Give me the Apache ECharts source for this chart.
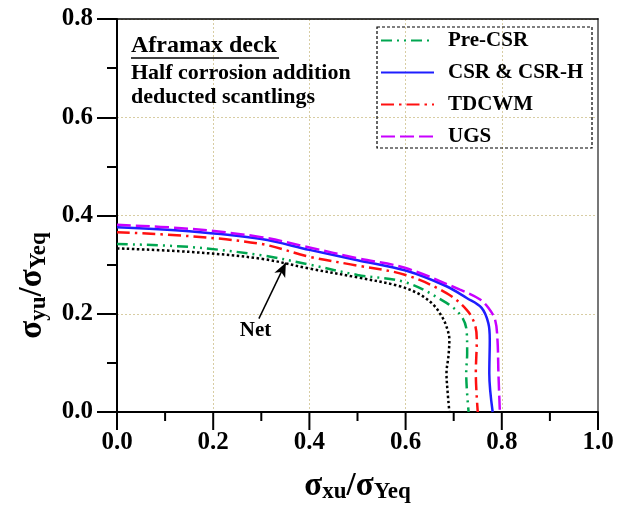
<!DOCTYPE html>
<html>
<head>
<meta charset="utf-8">
<script src="https://cdn.jsdelivr.net/npm/echarts@6/dist/echarts.min.js"></script>
<style>
  html, body { margin: 0; padding: 0; background: #fff; }
  #chart { width: 624px; height: 508px; }
</style>
</head>
<body>
<div id="chart"></div>
<script>
// Ultimate strength interaction curves, Aframax deck panel (x: sigma_xu/sigma_Yeq, y: sigma_yu/sigma_Yeq)
const seriesNames = ['Pre-CSR', 'CSR & CSR-H', 'TDCWM', 'UGS'];

const netCurve = [
  [0, 0.333], [0.15, 0.326], [0.3, 0.312], [0.4, 0.292], [0.5, 0.274],
  [0.588, 0.256], [0.63, 0.239], [0.658, 0.218], [0.675, 0.195], [0.685, 0.174],
  [0.691, 0.147], [0.689, 0.113], [0.685, 0.079], [0.687, 0.045], [0.691, 0]
];
const preCsrCurve = [
  [0, 0.342], [0.15, 0.336], [0.3, 0.319], [0.4, 0.300], [0.5, 0.279],
  [0.6, 0.264], [0.685, 0.222], [0.716, 0.195], [0.727, 0.164], [0.728, 0.12],
  [0.726, 0.079], [0.731, 0]
];
const csrCurve = [
  [0, 0.376], [0.15, 0.368], [0.3, 0.352], [0.4, 0.330], [0.5, 0.309],
  [0.6, 0.288], [0.685, 0.256], [0.727, 0.232], [0.758, 0.212], [0.772, 0.181],
  [0.775, 0.147], [0.774, 0.079], [0.781, 0]
];
const tdcwmCurve = [
  [0, 0.366], [0.15, 0.358], [0.3, 0.342], [0.4, 0.316], [0.5, 0.298],
  [0.6, 0.279], [0.685, 0.242], [0.727, 0.208], [0.744, 0.178], [0.748, 0.147],
  [0.746, 0.079], [0.75, 0]
];
const ugsCurve = [
  [0, 0.381], [0.15, 0.373], [0.3, 0.356], [0.4, 0.335], [0.5, 0.313],
  [0.6, 0.293], [0.713, 0.249], [0.755, 0.229], [0.772, 0.212], [0.786, 0.188],
  [0.791, 0.147], [0.793, 0.079], [0.796, 0]
];

// Tick positions along the horizontal axis
const xMajorTicks = [0, 0.2, 0.4, 0.6, 0.8, 1.0];
const xMinorTicks = [0.1, 0.3, 0.5, 0.7, 0.9];

// Arrow pointing at the net-scantling curve, and where its label sits
const netArrow = [[0.295, 0.190], [0.351, 0.304]];
const netLabelAt = [0.288, 0.166];

const serif = '"Liberation Serif", "DejaVu Serif", serif';
const gridColor = '#d8cda3';

const chart = echarts.init(document.getElementById('chart'), null, { renderer: 'canvas' });

function curve(name, data, color, dash, width, extra) {
  return Object.assign({
    name: name,
    type: 'line',
    xAxisIndex: 0,
    yAxisIndex: 0,
    data: data,
    symbol: 'none',
    smooth: 0.35,
    lineStyle: { color: color, width: width, type: dash, cap: 'butt' },
    itemStyle: { color: color },
    emphasis: { disabled: true },
    animation: false
  }, extra || {});
}

// Axis that only carries the short intermediate ticks
function minorTickAxis(position, max, length) {
  return {
    type: 'value', min: 0, max: max, interval: 0.1, position: position, offset: 0,
    axisLine: { show: false },
    axisTick: { show: true, inside: false, length: length, lineStyle: { color: '#000', width: 2 } },
    axisLabel: { show: false }, splitLine: { show: false }
  };
}

// Plain line closing the frame on the opposite side
function frameAxis(position, max, color, width) {
  return {
    type: 'value', min: 0, max: max, position: position,
    axisLine: { show: true, onZero: false, lineStyle: { color: color, width: width } },
    axisTick: { show: false }, axisLabel: { show: false }, splitLine: { show: false }
  };
}

// Outward tick marks below the horizontal axis, placed through the axis scales
function xTickSeries(values, length) {
  return {
    type: 'custom',
    xAxisIndex: 0,
    yAxisIndex: 0,
    silent: true,
    clip: false,
    z: 10,
    animation: false,
    data: values.map(v => [v, 0]),
    encode: { x: 0, y: 1 },
    renderItem: function (params, api) {
      const p = api.coord([api.value(0), 0]);
      return {
        type: 'rect',
        shape: { x: p[0] - 1, y: p[1], width: 2, height: length },
        style: { fill: '#000' }
      };
    }
  };
}

const titleRich = {
  m: { fontFamily: serif, fontWeight: 'bold', fontSize: 33, color: '#000', lineHeight: 36, verticalAlign: 'middle' },
  s: { fontFamily: serif, fontWeight: 'bold', fontSize: 23, color: '#000', lineHeight: 23, verticalAlign: 'bottom' }
};

const option = {
  backgroundColor: '#ffffff',
  animation: false,
  grid: { left: 117, right: 26, top: 19, bottom: 96, outerBoundsMode: 'none', containLabel: false },
  legend: {
    orient: 'vertical',
    left: 380,
    top: 30,
    itemWidth: 53,
    itemHeight: 14,
    itemGap: 11,
    padding: 0,
    data: seriesNames,
    itemStyle: { color: 'rgba(0,0,0,0)', borderWidth: 0, opacity: 0 },
    textStyle: {
      fontFamily: serif, fontWeight: 'bold', fontSize: 21, color: '#000',
      lineHeight: 21, padding: [0, 0, 0, 9]
    },
    selectedMode: false
  },
  xAxis: [{
    type: 'value', min: 0, max: 1.0, interval: 0.2, position: 'bottom',
    axisLine: { show: true, onZero: false, lineStyle: { color: '#000', width: 2 } },
    axisTick: { show: false },
    axisLabel: {
      margin: 18, color: '#000', fontFamily: serif, fontWeight: 'bold', fontSize: 25,
      formatter: v => v.toFixed(1)
    },
    splitLine: { show: true, lineStyle: { color: gridColor, type: [2, 2], width: 1 } },
    name: '{m|σ}{s|xu}{m|/σ}{s|Yeq}',
    nameLocation: 'middle',
    nameGap: 56,
    nameTextStyle: { rich: titleRich }
  },
    frameAxis('top', 1.0, '#000', 1.5)
  ],
  yAxis: [{
    type: 'value', min: 0, max: 0.8, interval: 0.2, position: 'left',
    axisLine: { show: true, onZero: false, lineStyle: { color: '#000', width: 2 } },
    axisTick: { show: true, inside: false, length: 20, lineStyle: { color: '#000', width: 2 } },
    axisLabel: {
      margin: 24, color: '#000', fontFamily: serif, fontWeight: 'bold', fontSize: 25,
      formatter: v => v.toFixed(1)
    },
    splitLine: { show: true, lineStyle: { color: gridColor, type: [2, 2], width: 1 } },
    name: '{m|σ}{s|yu}{m|/σ}{s|Yeq}',
    nameLocation: 'middle',
    nameRotate: 90,
    nameGap: 52,
    nameTextStyle: { rich: titleRich, padding: [0, 140, 0, 0] }
  },
    minorTickAxis('left', 0.8, 10),
    frameAxis('right', 0.8, '#777', 2)
  ],
  series: [
    xTickSeries(xMajorTicks, 18),
    xTickSeries(xMinorTicks, 9),
    curve('Net', netCurve, '#000', [2.5, 2.5], 2.5, {
      markLine: {
        silent: true,
        symbol: ['none', 'arrow'],
        symbolSize: [9, 14],
        label: { show: false },
        lineStyle: { color: '#000', width: 1.5, type: 'solid' },
        data: [[{ coord: netArrow[0] }, { coord: netArrow[1] }]]
      },
      markPoint: {
        silent: true,
        symbol: 'circle',
        symbolSize: 0,
        label: {
          show: true, position: 'inside', formatter: 'Net',
          fontFamily: serif, fontWeight: 'bold', fontSize: 21, color: '#000'
        },
        data: [{ coord: netLabelAt }]
      }
    }),
    curve('Pre-CSR', preCsrCurve, '#00a650', [11, 5, 2, 5, 2, 5], 2.5),
    curve('TDCWM', tdcwmCurve, '#ff1010', [13, 5, 2.5, 5], 2.5),
    curve('CSR & CSR-H', csrCurve, '#1e1eff', 'solid', 2.5),
    curve('UGS', ugsCurve, '#c800ff', [14, 5], 2.5)
  ],
  graphic: [
    // dashed frame around the legend
    { id: 'legendFrame', type: 'rect', z: 100, silent: true,
      shape: { x: 377, y: 27, width: 215, height: 121 },
      style: { fill: null, stroke: '#000', lineWidth: 1.2, lineDash: [3, 2] } },
    // case description
    { id: 'caseTitle', type: 'text', left: 131, top: 34, z: 100, silent: true,
      style: { text: 'Aframax deck', fontFamily: serif, fontWeight: 'bold', fontSize: 24, fill: '#000' } },
    { id: 'caseTitleRule', type: 'line', z: 100, silent: true,
      shape: { x1: 131, y1: 58, x2: 279, y2: 58 },
      style: { stroke: '#000', lineWidth: 1.5 } },
    { id: 'caseLine1', type: 'text', left: 131, top: 62, z: 100, silent: true,
      style: { text: 'Half corrosion addition', fontFamily: serif, fontWeight: 'bold', fontSize: 22, fill: '#000' } },
    { id: 'caseLine2', type: 'text', left: 131, top: 86, z: 100, silent: true,
      style: { text: 'deducted scantlings', fontFamily: serif, fontWeight: 'bold', fontSize: 22, fill: '#000' } }
  ]
};

chart.setOption(option);
</script>
</body>
</html>
